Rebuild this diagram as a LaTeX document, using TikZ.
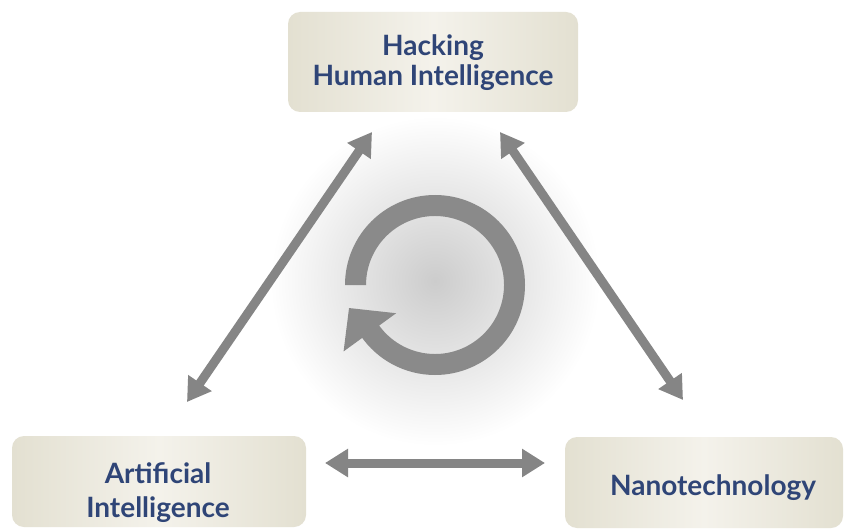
\documentclass[tikz,border=0pt]{standalone}
\usepackage{fontspec}
\setmainfont{Lato}
\usetikzlibrary{arrows.meta,calc}
\definecolor{txt}{HTML}{2F4577}
\definecolor{arr}{HTML}{858585}
\definecolor{ringc}{HTML}{8A8A8A}
\definecolor{boxedge}{HTML}{E3E0D1}
\definecolor{boxmid}{HTML}{F4F2EB}
\tikzset{
  boxstyle/.style={rounded corners=12pt, left color=boxedge, right color=boxedge, middle color=boxmid, draw=none, inner sep=0pt},
  lbl/.style={text=txt, font=\fontsize{28}{30}\selectfont\bfseries, inner sep=0pt, anchor=base},
  conn/.style={draw=arr, line width=9pt, {Triangle[width=27pt,length=23pt]}-{Triangle[width=27pt,length=23pt]}}
}
\begin{document}
\begin{tikzpicture}[x=1pt,y=1pt]
\useasboundingbox (0,0) rectangle (848,531);
\fill[white] (0,0) rectangle (848,531);
% soft glow
\shade[inner color=black!20, outer color=white] (435,250) circle (165);
% boxes
\node[boxstyle, minimum width=290pt, minimum height=100pt] (top) at (433,469) {};
\node[boxstyle, minimum width=294pt, minimum height=91pt] (left) at (159,49.5) {};
\node[boxstyle, minimum width=278pt, minimum height=91pt] (right) at (704,48.5) {};
% labels
\node[lbl] (t1) at (433,475) {Hacking};
\node[lbl] (t2) at (433,445) {Human Intelligence};
\node[lbl] (l1t) at (158,48) {Artificial};
\node[lbl] (l2t) at (158,14) {Intelligence};
\node[lbl] (r1t) at (713,36) {Nanotechnology};
% connectors
\coordinate (la) at (372,399); \coordinate (lb) at (187,129);
\coordinate (ra) at (500,399); \coordinate (rb) at (683,131);
\coordinate (ba) at (325,68);  \coordinate (bb) at (545,68);
\draw[conn] (la) -- (lb);
\draw[conn] (ra) -- (rb);
\draw[conn] (ba) -- (bb);
% cycle arrow
\begin{scope}[shift={(435,246)}]
\fill[ringc] (180:90) arc[start angle=180, end angle=-146, radius=90] -- (-146:69) arc[start angle=-146, end angle=180, radius=69] -- cycle;
\fill[ringc] (-144:48) -- (-144:113) -- (-165:89) -- cycle;
\end{scope}
\end{tikzpicture}
\end{document}
